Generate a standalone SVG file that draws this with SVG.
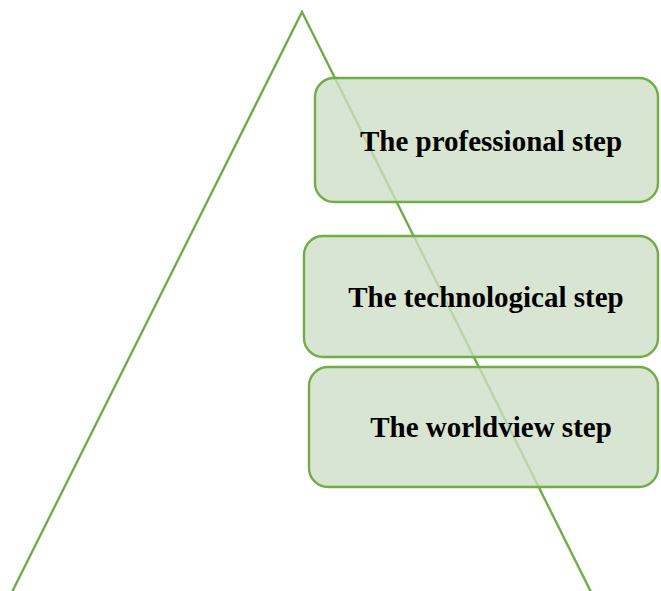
<svg xmlns="http://www.w3.org/2000/svg" width="661" height="591" viewBox="0 0 661 591">
<style>
.box{fill:#cedec7;fill-opacity:0.78;stroke:#70ad47;stroke-width:2.4}
.lbl{font-family:"Liberation Serif",serif;font-weight:bold;font-size:29px;fill:#000;text-anchor:middle}
.edge{fill:none;stroke:#70ad47;stroke-width:2.4}
</style>
<rect width="661" height="591" fill="#fff"/>
<g id="connectors">
<polyline class="edge" points="12,592 302,12 591,592"/>
</g>
<g id="node-professional">
<rect class="box" x="315" y="78" width="343" height="124" rx="19"/>
<text class="lbl" x="491" y="151">The professional step</text>
</g>
<g id="node-technological">
<rect class="box" x="304" y="236" width="354" height="121" rx="19"/>
<text class="lbl" x="486" y="307">The technological step</text>
</g>
<g id="node-worldview">
<rect class="box" x="309" y="367" width="349" height="120" rx="19"/>
<text class="lbl" x="491" y="437">The worldview step</text>
</g>
</svg>
